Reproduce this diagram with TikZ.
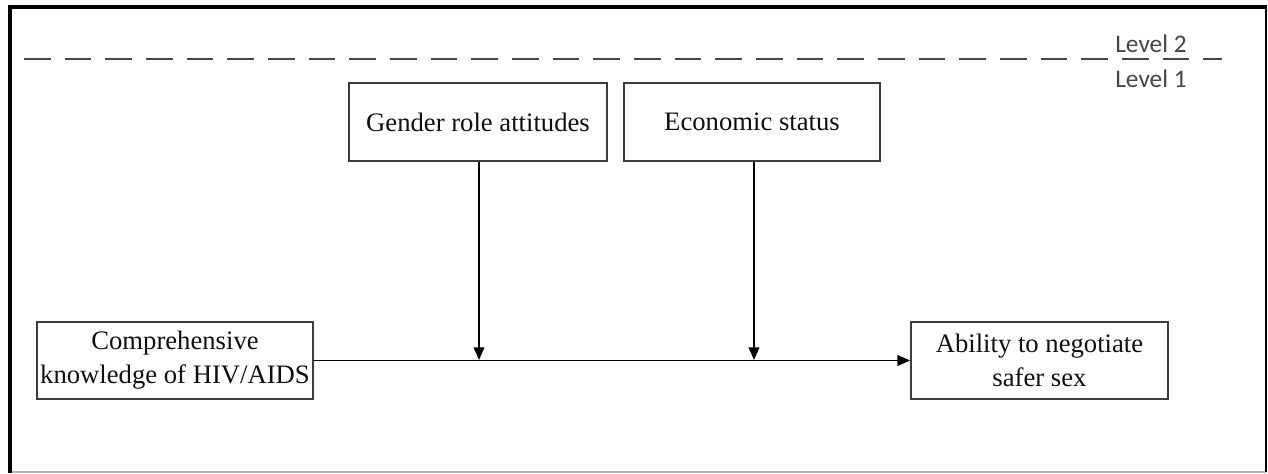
\documentclass[tikz,border=0pt]{standalone}
\usepackage{fontspec}
\setmainfont{Liberation Serif}
\newfontfamily\lvlfont{Carlito}
\usetikzlibrary{arrows.meta}
\definecolor{boxline}{RGB}{60,60,60}
\definecolor{dashgray}{RGB}{70,70,70}
\definecolor{txt}{RGB}{15,15,15}
\begin{document}
\begin{tikzpicture}[x=0.75pt,y=-0.75pt,
  boxnode/.style={draw=boxline,line width=1.3pt,fill=white,text=txt,inner sep=0pt,
     align=center,font=\fontsize{20}{25.5}\selectfont},
  conn/.style={line width=1.2pt,-{Triangle[length=9.5pt,width=8pt]}},
  lvl/.style={font=\lvlfont\fontsize{19}{22}\selectfont,text=dashgray,inner sep=0pt}]
\useasboundingbox (0,0) rectangle (1268,474);
% frame
\draw[line width=0.8pt,gray!60] (10,472) -- (1266,472);
\draw[line width=2pt] (1266,7) -- (1266,472);
\draw[line width=3pt] (10,473) -- (10,7) -- (1267,7);
% level divider
\draw[dashgray,line width=1.5pt,dash pattern=on 20pt off 10.5pt] (24,59) -- (1222,59);
\node[lvl] (l2) at (1151,44) {Level 2};
\node[lvl] (l1) at (1151,79) {Level 1};
% boxes
\node[boxnode,minimum width=258*0.75pt,minimum height=78*0.75pt] (g) at (478,122) {Gender role attitudes};
\node[boxnode,minimum width=256*0.75pt,minimum height=78*0.75pt] (e) at (752,122) {Economic status};
\node[boxnode,minimum width=276*0.75pt,minimum height=77*0.75pt] (c) at (175,360.5) {Comprehensive\\knowledge of HIV/AIDS};
\node[boxnode,minimum width=257*0.75pt,minimum height=77*0.75pt] (a) at (1039.5,360.5) {Ability to negotiate\\safer sex};
% connectors
\coordinate (m1) at (479,360);
\coordinate (m2) at (754,360);
\draw[conn] (c.east) -- (a.west);
\draw[conn] (g.south -| m1) -- (m1);
\draw[conn] (e.south -| m2) -- (m2);
\end{tikzpicture}
\end{document}
